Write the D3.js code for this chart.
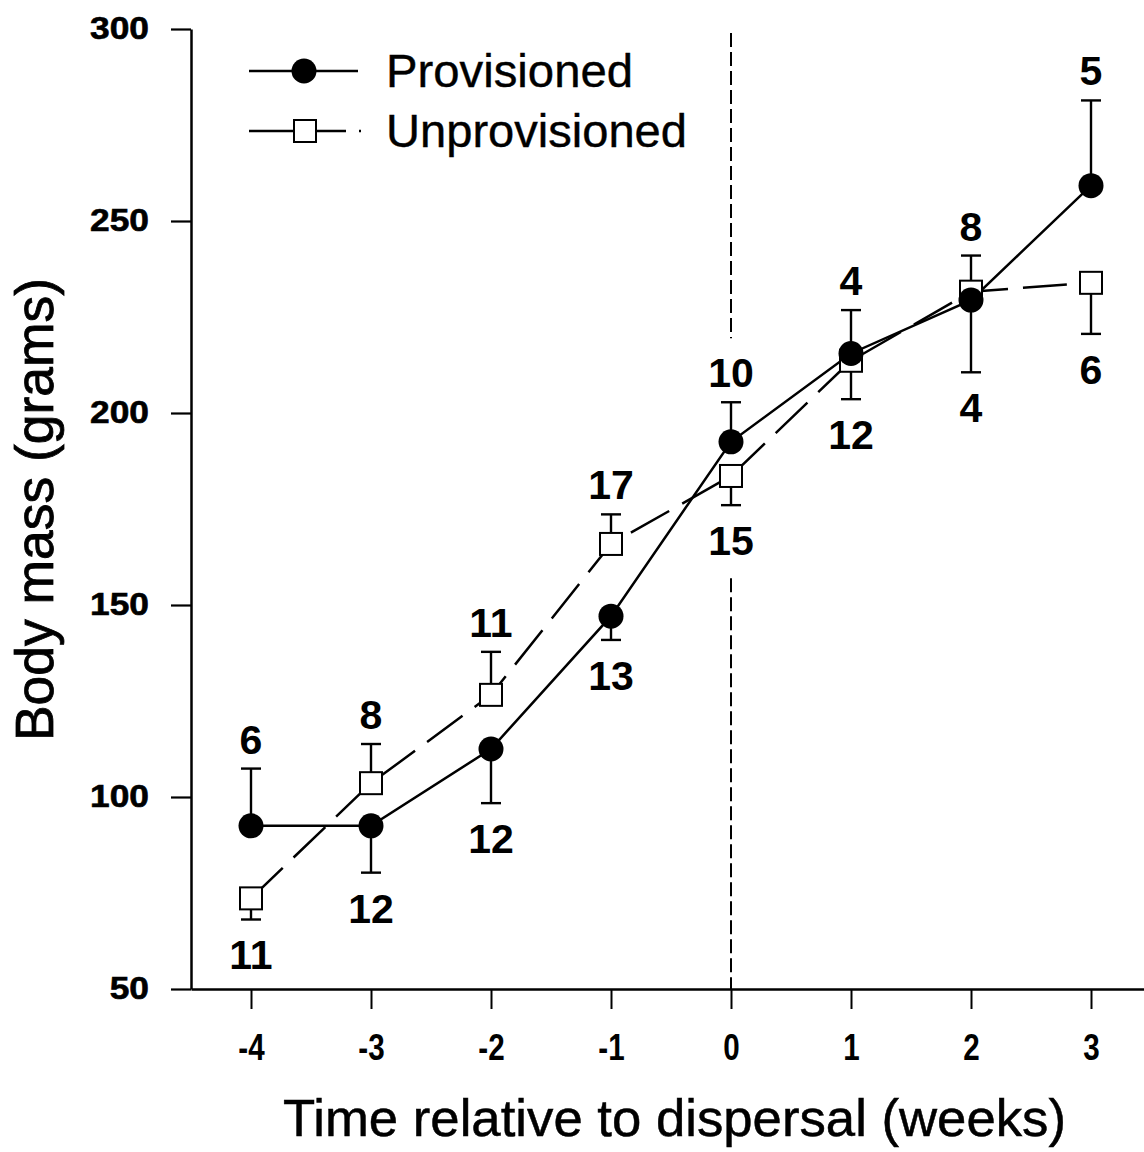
<!DOCTYPE html>
<html>
<head>
<meta charset="utf-8">
<script src="https://cdn.jsdelivr.net/npm/d3@7"></script>
<style>
  html, body { margin: 0; padding: 0; background: #fff; }
  svg { display: block; font-family: "Liberation Sans", Arial, Helvetica, sans-serif; }
</style>
</head>
<body>
<svg id="chart" width="1144" height="1152"></svg>
<script>
// Body mass of juveniles around dispersal, mean ± SE, with sample sizes
const weeks = [-4, -3, -2, -1, 0, 1, 2, 3];

const provMean = [92.5, 92.5, 112.5, 147.1, 192.5, 215.5, 229.4, 259.2];
const provSE   = [14.9, 12.2, 14.1, 6.2, 10.3, 11.3, 18.8, 22.2];
const provSide = ["up", "down", "down", "down", "up", "up", "down", "up"];
const provN    = [6, 12, 12, 13, 10, 4, 4, 5];

const unprovMean = [73.6, 103.6, 126.6, 165.9, 183.6, 213.6, 231.6, 233.9];
const unprovSE   = [5.5, 10.2, 11.2, 7.7, 7.6, 10.0, 9.4, 13.3];
const unprovSide = ["down", "up", "up", "up", "down", "down", "up", "down"];
const unprovN    = [11, 8, 11, 17, 15, 12, 8, 6];

const yTicks = [50, 100, 150, 200, 250, 300];
const seriesNames = ["Provisioned", "Unprovisioned"];
const dispersalWeek = 0;

const svg = d3.select("#chart");

const x = d3.scaleLinear().domain([-4.5, 3.5]).range([191, 1151]);
const y = d3.scaleLinear().domain([50, 300]).range([989, 29]);

// squeeze or stretch a text node horizontally by a factor
function fitWidth(sel, factor) {
  sel.each(function () {
    const len = this.getComputedTextLength();
    d3.select(this).attr("textLength", len * factor).attr("lengthAdjust", "spacingAndGlyphs");
  });
}

// ---- axes ----
const yAxis = svg.append("g")
  .attr("transform", `translate(${x(-4.5)},0)`)
  .call(d3.axisLeft(y).tickValues(yTicks).tickSize(20).tickSizeOuter(0).tickPadding(22));
yAxis.select(".domain").attr("stroke-width", 2.5);
yAxis.selectAll(".tick line").attr("stroke-width", 2.2);
yAxis.selectAll(".tick text")
  .attr("font-size", 31).attr("font-weight", "bold").attr("fill", "#000")
  .attr("font-family", "'Liberation Sans', Arial, sans-serif")
  .attr("stroke", "#000").attr("stroke-width", 0.6)
  .call(fitWidth, 1.14);

const xAxis = svg.append("g")
  .attr("transform", `translate(0,${y(50)})`)
  .call(d3.axisBottom(x).tickValues(weeks).tickSize(20).tickSizeOuter(0).tickPadding(25)
    .tickFormat(d3.format("d")));
xAxis.select(".domain").attr("stroke-width", 2.5);
xAxis.selectAll(".tick line").attr("stroke-width", 2);
xAxis.selectAll(".tick text")
  .attr("font-size", 37).attr("font-weight", "bold").attr("fill", "#000")
  .attr("font-family", "'Liberation Sans', Arial, sans-serif")
  .text(d => d < 0 ? "-" + Math.abs(d) : String(d))
  .call(fitWidth, 0.8);

// axis titles
svg.append("text")
  .attr("x", (x(-4.5) + 1144) / 2 + 7).attr("y", 1136)
  .attr("text-anchor", "middle").attr("font-size", 52)
  .attr("stroke", "#000").attr("stroke-width", 0.5)
  .attr("textLength", 783).attr("lengthAdjust", "spacingAndGlyphs")
  .text("Time relative to dispersal (weeks)");

svg.append("text")
  .attr("transform", `translate(53,${(278 + 741) / 2}) rotate(-90)`)
  .attr("text-anchor", "middle").attr("font-size", 53)
  .attr("stroke", "#000").attr("stroke-width", 0.8)
  .attr("textLength", 463).attr("lengthAdjust", "spacingAndGlyphs")
  .text("Body mass (grams)");

// ---- series ----
const prov = weeks.map((w, i) => ({ w, m: provMean[i], se: provSE[i], side: provSide[i], n: provN[i] }));
const unprov = weeks.map((w, i) => ({ w, m: unprovMean[i], se: unprovSE[i], side: unprovSide[i], n: unprovN[i] }));

const line = d3.line().x(d => x(d.w)).y(d => y(d.m));
const errEnd = d => d.side === "up" ? d.m + d.se : d.m - d.se;

const plot = svg.append("g");

// error bars (one-sided) with caps
function errorBars(data) {
  const g = plot.append("g").attr("stroke", "#000").attr("stroke-width", 2.4);
  g.selectAll("line.stem").data(data).join("line")
    .attr("x1", d => x(d.w)).attr("x2", d => x(d.w))
    .attr("y1", d => y(d.m)).attr("y2", d => y(errEnd(d)));
  g.selectAll("line.cap").data(data).join("line")
    .attr("x1", d => x(d.w) - 10).attr("x2", d => x(d.w) + 10)
    .attr("y1", d => y(errEnd(d))).attr("y2", d => y(errEnd(d)));
}
errorBars(unprov);
errorBars(prov);

plot.append("path").datum(unprov).attr("d", line)
  .attr("fill", "none").attr("stroke", "#000").attr("stroke-width", 2.5)
  .attr("stroke-dasharray", "44,15");
plot.append("path").datum(prov).attr("d", line)
  .attr("fill", "none").attr("stroke", "#000").attr("stroke-width", 2.5);

plot.selectAll("rect.sq").data(unprov).join("rect")
  .attr("x", d => x(d.w) - 11).attr("y", d => y(d.m) - 11)
  .attr("width", 22).attr("height", 22)
  .attr("fill", "#fff").attr("stroke", "#000").attr("stroke-width", 2);
plot.selectAll("circle.pt").data(prov).join("circle")
  .attr("cx", d => x(d.w)).attr("cy", d => y(d.m)).attr("r", 12.5)
  .attr("fill", "#000");

// sample sizes at the end of each error bar
function nLabels(data) {
  return plot.append("g").selectAll("text").data(data).join("text")
    .attr("x", d => x(d.w))
    .attr("y", d => d.side === "up" ? y(errEnd(d)) - 15 : y(errEnd(d)) + 50)
    .attr("text-anchor", "middle").attr("font-size", 41).attr("font-weight", "bold")
    .text(d => d.n);
}
const provLabels = nLabels(prov);
const unprovLabels = nLabels(unprov);

// dispersal reference line, broken around the labels at week 0
const topLabel = provLabels.filter(d => d.w === dispersalWeek).node().getBBox();
const botLabel = unprovLabels.filter(d => d.w === dispersalWeek).node().getBBox();
const vline = svg.append("g").attr("stroke", "#000").attr("stroke-width", 2)
  .attr("stroke-dasharray", "14,5");
vline.append("line")
  .attr("x1", x(dispersalWeek)).attr("x2", x(dispersalWeek))
  .attr("y1", y(300) + 4).attr("y2", topLabel.y - 12);
vline.append("line")
  .attr("x1", x(dispersalWeek)).attr("x2", x(dispersalWeek))
  .attr("y1", botLabel.y + botLabel.height + 14).attr("y2", y(50));

// ---- legend ----
const legend = svg.append("g");
const rows = [
  { name: seriesNames[0], cy: 71, kind: "circle" },
  { name: seriesNames[1], cy: 131, kind: "square" }
];
rows.forEach(r => {
  const g = legend.append("g");
  g.append("line").attr("x1", 249).attr("x2", r.kind === "circle" ? 358 : 364)
    .attr("y1", r.cy).attr("y2", r.cy)
    .attr("stroke", "#000").attr("stroke-width", 2.5)
    .attr("stroke-dasharray", r.kind === "circle" ? null : "97,13,2");
  if (r.kind === "circle") {
    g.append("circle").attr("cx", 304).attr("cy", r.cy).attr("r", 12.5).attr("fill", "#000");
  } else {
    g.append("rect").attr("x", 294).attr("y", r.cy - 11).attr("width", 22).attr("height", 22)
      .attr("fill", "#fff").attr("stroke", "#000").attr("stroke-width", 2);
  }
  g.append("text").attr("x", 386).attr("y", r.cy + 16)
    .attr("font-size", 46)
    .attr("stroke", "#000").attr("stroke-width", 0.4)
    .attr("textLength", r.kind === "circle" ? 247 : 301).attr("lengthAdjust", "spacingAndGlyphs")
    .text(r.name);
});
</script>
</body>
</html>
